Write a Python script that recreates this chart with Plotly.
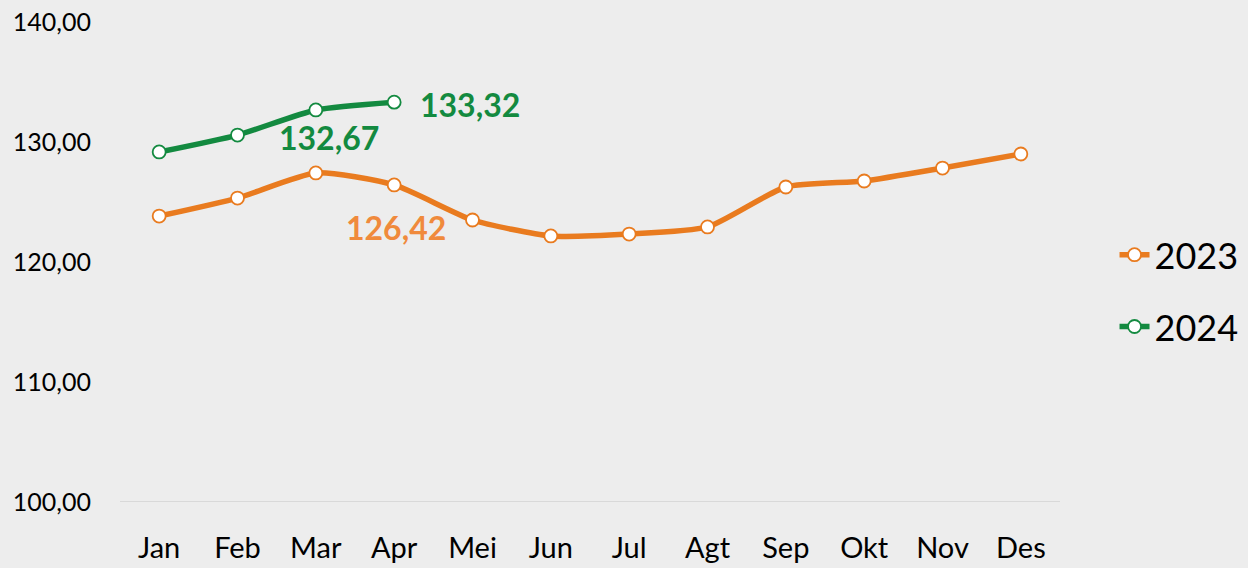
import plotly.graph_objects as go

months = ["Jan", "Feb", "Mar", "Apr", "Mei", "Jun", "Jul", "Agt", "Sep", "Okt", "Nov", "Des"]
values_2023 = [123.83, 125.33, 127.42, 126.42, 123.50, 122.17, 122.33, 122.92, 126.25, 126.75, 127.83, 129.00]
values_2024 = [129.17, 130.58, 132.67, 133.32]
series_names = ["2023", "2024"]

ORANGE = "#E97B1F"
ORANGE_LABEL = "#F08A3C"
GREEN = "#138A40"
BG = "#EDEDED"
FONT = "Lato"

fig = go.Figure()
for name, vals, color in [(series_names[0], values_2023, ORANGE), (series_names[1], values_2024, GREEN)]:
    fig.add_trace(go.Scatter(
        x=months[:len(vals)], y=vals, name=name, mode="lines+markers",
        line=dict(color=color, width=5.5, shape="spline", smoothing=0.6),
        marker=dict(symbol="circle", size=13, color="white", line=dict(color=color, width=1.8)),
        legendgroup=name,
    ))

def label(x, y, color, xshift, yshift, xanchor="center"):
    fig.add_annotation(x=x, y=y, xref="x", yref="y", text=f"<b>{y:.2f}</b>".replace(".", ","),
                       showarrow=False, xshift=xshift, yshift=yshift, xanchor=xanchor,
                       font=dict(family=FONT, size=32, color=color))

label(months[3], values_2023[3], ORANGE_LABEL, 2, -43)
label(months[2], values_2024[2], GREEN, 13, -28)
label(months[3], values_2024[3], GREEN, 24, -2, xanchor="left")

fig.update_layout(
    width=1248, height=568,
    paper_bgcolor=BG, plot_bgcolor=BG,
    margin=dict(l=120, r=188, t=22, b=66, autoexpand=False),
    separators=",.",
    font=dict(family=FONT, color="#000000"),
    showlegend=True,
    legend=dict(x=1.058, xanchor="left", y=0.44, yanchor="middle",
                font=dict(size=36, color="#000000"), tracegroupgap=22,
                bgcolor="rgba(0,0,0,0)"),
)
fig.update_xaxes(
    type="category", categoryorder="array", categoryarray=months,
    range=[-0.5, 11.5], showgrid=False, zeroline=False, automargin=False,
    showline=False, ticks="", ticklabelstandoff=26,
    tickfont=dict(family=FONT, size=29, color="#000000"),
)
fig.update_yaxes(
    range=[100, 140], dtick=10, tickformat=".2f", automargin=False,
    showgrid=False, zeroline=False, showline=False, ticks="",
    ticklabelstandoff=28,
    tickfont=dict(family=FONT, size=25, color="#000000"),
)
# baseline at the axis minimum
fig.add_shape(type="line", xref="paper", yref="y", x0=0, x1=1, y0=100, y1=100,
              line=dict(color="#D9D9D9", width=2), layer="below")

fig.write_html("out.html", config={"displayModeBar": False},
               post_script="document.body.style.margin='0';document.body.style.background='#EDEDED';")
